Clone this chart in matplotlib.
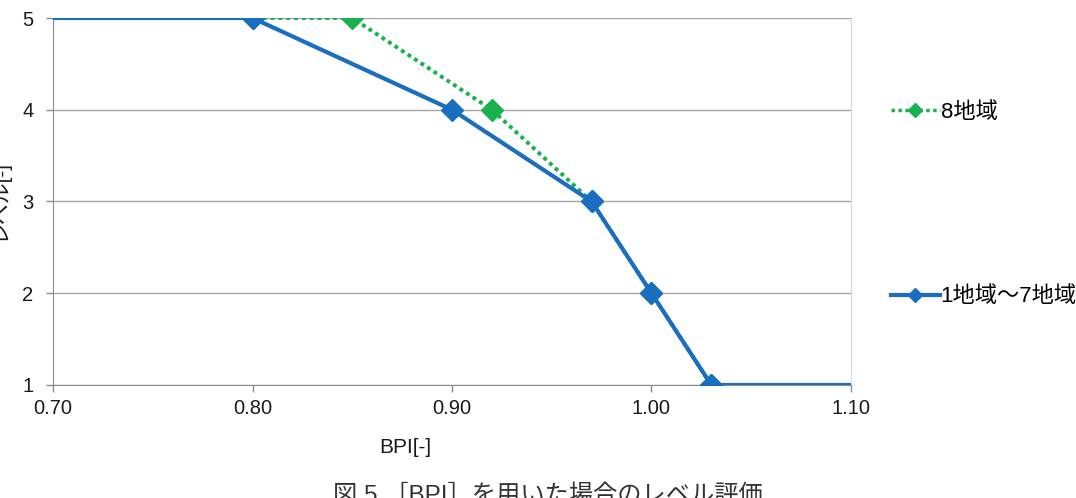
import matplotlib
matplotlib.use("Agg")
import matplotlib.pyplot as plt
from matplotlib.lines import Line2D

plt.rcParams['font.family'] = ['Liberation Sans', 'Noto Sans CJK JP', 'DejaVu Sans']

# data
bpi_all = [0.70, 0.80, 0.90, 0.97, 1.00, 1.03, 1.10]
lvl_all = [5, 5, 4, 3, 2, 1, 1]
bpi_8 = [0.70, 0.80, 0.85, 0.92, 0.97, 1.00, 1.03, 1.10]
lvl_8 = [5, 5, 5, 4, 3, 2, 1, 1]
label_8 = "8地域"
label_all = "1地域～7地域"
xticks = [0.70, 0.80, 0.90, 1.00, 1.10]
yticks = [1, 2, 3, 4, 5]
xlabel = "BPI[-]"
ylabel = "レベル[-]"
caption = "図 5 ［BPI］を用いた場合のレベル評価"

blue = "#1A6EC0"
green = "#19B04E"
txt = "#1a1a1a"

fig = plt.figure(figsize=(10.76, 4.98), dpi=100)
ax = fig.add_axes([53/1076, 1-385/498, (851-53)/1076, (385-18)/498])

for y in yticks:
    ax.axhline(y, color="#a6a6a6", lw=1.0, zorder=0)

# green series
ax.plot(bpi_8, lvl_8, color=green, lw=2.8, ls=(0, (1, 1)), zorder=2)
ax.plot(bpi_8[1:-1], lvl_8[1:-1], ls='none', marker='D', ms=11, color=green, zorder=3)
# blue series
ax.plot(bpi_all, lvl_all, color=blue, lw=3, zorder=4)
ax.plot(bpi_all[1:-1], lvl_all[1:-1], ls='none', marker='D', ms=11, color=blue, zorder=5)

ax.set_xlim(0.70, 1.10)
ax.set_ylim(1, 5)
ax.set_xticks(xticks)
ax.set_xticklabels([f"{v:.2f}" for v in xticks])
ax.set_yticks(yticks)
ax.spines['top'].set_visible(False)
ax.spines['right'].set_color('#d9d9d9')
ax.spines['left'].set_color('#8c8c8c')
ax.spines['bottom'].set_color('#8c8c8c')
ax.tick_params(axis='both', colors='#8c8c8c', labelcolor=txt, labelsize=14.5, length=5, width=1)
ax.tick_params(axis='y', pad=9)
ax.tick_params(axis='x', pad=5)
ax.set_xlabel(xlabel, fontsize=15, color=txt)
ax.xaxis.set_label_coords((405-53)/(851-53), -0.145)
fig.text(-1/1076, 1-200/498, ylabel, rotation=90, ha='center', va='center', fontsize=15, color=txt)

h8 = Line2D([], [], color=green, lw=2.5, ls=(0, (1, 1)), marker='D', ms=7)
hall = Line2D([], [], color=blue, lw=3, marker='D', ms=7)
leg1 = fig.legend([h8], [label_8], loc='center left', bbox_to_anchor=(884/1076, 1-112/498),
                  frameon=False, fontsize=16, handlelength=2.2, handletextpad=0.05,
                  borderaxespad=0, borderpad=0.3)
leg2 = fig.legend([hall], [label_all], loc='center left', bbox_to_anchor=(884/1076, 1-297/498),
                  frameon=False, fontsize=16, handlelength=2.2, handletextpad=0.05,
                  borderaxespad=0, borderpad=0.3)

fig.text(548/1076, 1-484/498, caption, ha='center', va='top', fontsize=17.5, color='#333333')

fig.savefig("out.png", dpi=100)
